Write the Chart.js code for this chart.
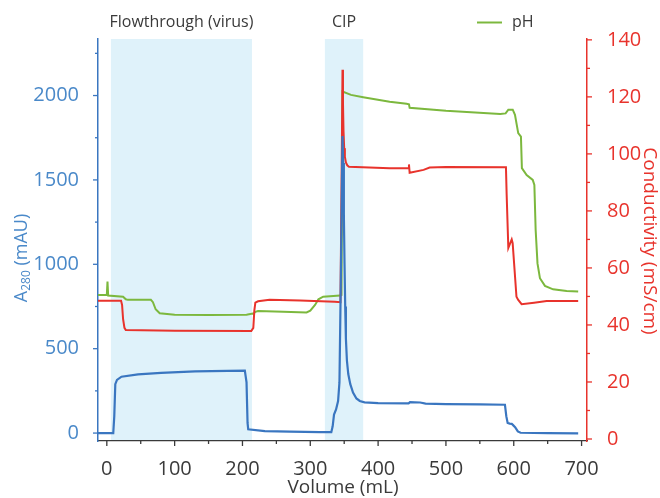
<!DOCTYPE html>
<html>
<head>
<meta charset="utf-8">
<script src="https://cdn.jsdelivr.net/npm/chart.js@4.4.0/dist/chart.umd.min.js"></script>
<style>
html, body { margin: 0; padding: 0; background: #fff; }
#wrap { width: 660px; height: 498px; position: relative; }
</style>
</head>
<body>
<div id="wrap"><canvas id="chromChart"></canvas></div>
<script>
// UV trace, A280 (mAU) against volume (mL)
var volA280 = [-13, 9.5, 11, 12.5, 15, 21.6, 46, 80, 130, 178, 203.5, 206, 207.5, 208.5, 233, 270, 314, 331,
    333, 335, 338, 341, 343, 345, 347.5, 348.5, 349.5, 350.5, 351.5, 352.5, 354, 356, 359, 363, 368, 373, 380,
    400, 445, 447, 462, 470, 500, 550, 587, 589, 591, 594, 597, 599, 602, 606, 610, 650, 695];
var a280 = [0, 0, 100, 290, 315, 334, 348, 357, 366, 369, 370, 300, 60, 22, 12, 8, 5, 5,
    40, 110, 140, 190, 300, 900, 1760, 1600, 1300, 1000, 750, 560, 430, 350, 290, 240, 205, 190, 182,
    178, 176, 183, 181, 175, 172, 170, 168, 100, 60, 56, 55, 47, 35, 10, 2, 0, -2];

// conductivity (mS/cm)
var volCond = [-13, 21, 22.5, 24, 26, 28, 100, 213, 216, 217.5, 219, 223, 240, 285, 336, 344.5, 346.5, 347.5,
    348.2, 349, 350, 351, 352.5, 354.5, 357, 417, 445, 445.5, 446.5, 467, 476, 500, 588.5, 589.5, 592, 597,
    598.4, 604, 606.6, 611.6, 630, 648.5, 695];
var conductivity = [48.5, 48.5, 47, 42, 39, 38.2, 38, 37.9, 39, 45, 47.8, 48.3, 48.8, 48.6, 48.1, 48, 100, 129.5,
    118, 108, 102, 99, 97, 96, 95.5, 95, 95, 96.3, 93.4, 94.4, 95.2, 95.4, 95.3, 86, 67, 70,
    68.7, 49.9, 48.8, 47.3, 47.8, 48.4, 48.4];

// pH
var volPH = [-13, 0, 1, 2, 24, 28, 31, 65, 68, 72, 78, 100, 150, 206, 215, 216, 219, 223, 260, 294.5, 300, 307,
    312, 319, 344, 346, 347.5, 360, 378, 417, 442, 445.5, 446.5, 500, 580, 588, 592, 598.5, 601.8, 606.6, 610.6,
    612, 619, 628, 630.4, 632.3, 635, 638.6, 646, 658, 678, 695];
var pH = [5.05, 5.05, 5.52, 5.03, 4.99, 4.9, 4.88, 4.88, 4.8, 4.55, 4.41, 4.36, 4.35, 4.36, 4.4, 4.39, 4.46, 4.49,
    4.46, 4.44, 4.5, 4.7, 4.9, 4.99, 5.03, 5.05, 12.19, 12.07, 11.99, 11.83, 11.76, 11.74, 11.62, 11.51, 11.4, 11.42,
    11.55, 11.55, 11.37, 10.73, 10.61, 9.5, 9.26, 9.09, 8.91, 7.33, 6.16, 5.64, 5.37, 5.25, 5.19, 5.17];

var regionNames = ['Flowthrough (virus)', 'CIP'];
var regionStart = [6, 321.5];
var regionEnd = [214, 378];

var volumeLabels = [0, 100, 200, 300, 400, 500, 600, 700];
var a280Labels = [0, 500, 1000, 1500, 2000];
var condLabels = [0, 20, 40, 60, 80, 100, 120, 140];

var blue = '#3a76c0';
var blueText = '#4a89c9';
var red = '#e8332c';
var green = '#7cb83e';
var grey = '#3a3a3a';
var fontName = "'Open Sans', sans-serif";

function toPoints(xs, ys) {
    return xs.map(function(x, i) { return { x: x, y: ys[i] }; });
}

function onlyLabels(list) {
    return function(value) { return list.indexOf(value) >= 0 ? value : ''; };
}

var overlay = {
    id: 'overlay',
    beforeDraw: function(chart) {
        var ctx = chart.ctx, area = chart.chartArea, x = chart.scales.x;
        ctx.save();
        ctx.fillStyle = '#dff2fa';
        for (var i = 0; i < regionNames.length; i++) {
            var a = x.getPixelForValue(regionStart[i]);
            var b = x.getPixelForValue(regionEnd[i]);
            ctx.fillRect(a, area.top, b - a, area.bottom - area.top);
        }
        ctx.restore();
    },
    afterDraw: function(chart) {
        var ctx = chart.ctx, area = chart.chartArea;
        var x = chart.scales.x, y = chart.scales.y, y2 = chart.scales.y2;
        ctx.save();

        // tick marks
        ctx.lineWidth = 1.3;
        ctx.strokeStyle = grey;
        x.ticks.forEach(function(t) {
            var p = x.getPixelForValue(t.value);
            var len = volumeLabels.indexOf(t.value) >= 0 ? 5 : 3;
            ctx.beginPath(); ctx.moveTo(p, area.bottom); ctx.lineTo(p, area.bottom + len); ctx.stroke();
        });
        ctx.strokeStyle = blue;
        y.ticks.forEach(function(t) {
            var p = y.getPixelForValue(t.value);
            var len = a280Labels.indexOf(t.value) >= 0 ? 5 : 3;
            ctx.beginPath(); ctx.moveTo(area.left - len, p); ctx.lineTo(area.left, p); ctx.stroke();
        });
        ctx.strokeStyle = red;
        y2.ticks.forEach(function(t) {
            var p = y2.getPixelForValue(t.value);
            var len = condLabels.indexOf(t.value) >= 0 ? 5 : 3;
            ctx.beginPath(); ctx.moveTo(area.right, p); ctx.lineTo(area.right + len, p); ctx.stroke();
        });

        // region labels
        ctx.fillStyle = grey;
        ctx.font = '16px ' + fontName;
        ctx.textAlign = 'center';
        ctx.textBaseline = 'alphabetic';
        for (var i = 0; i < regionNames.length; i++) {
            var mid = (x.getPixelForValue(regionStart[i]) + x.getPixelForValue(regionEnd[i])) / 2;
            ctx.fillText(regionNames[i], mid, 27);
        }

        // legend for pH
        ctx.strokeStyle = green;
        ctx.lineWidth = 2;
        ctx.beginPath(); ctx.moveTo(477, 22.5); ctx.lineTo(502, 22.5); ctx.stroke();
        ctx.textAlign = 'left';
        ctx.fillText(chart.data.datasets[2].label, 512, 27);

        // x title
        ctx.font = '19px ' + fontName;
        ctx.textAlign = 'center';
        ctx.fillText('Volume (mL)', 343, 493);

        // left title with subscript
        ctx.save();
        ctx.translate(27, 258);
        ctx.rotate(-Math.PI / 2);
        ctx.fillStyle = blueText;
        ctx.textAlign = 'left';
        var big = '18px ' + fontName, small = '12px ' + fontName;
        ctx.font = big; var w1 = ctx.measureText('A').width; var w3 = ctx.measureText(' (mAU)').width;
        ctx.font = small; var w2 = ctx.measureText('280').width;
        var sx = -(w1 + w2 + w3) / 2;
        ctx.font = big; ctx.fillText('A', sx, 0);
        ctx.font = small; ctx.fillText('280', sx + w1, 3);
        ctx.font = big; ctx.fillText(' (mAU)', sx + w1 + w2, 0);
        ctx.restore();

        // right title
        ctx.save();
        ctx.translate(644, 241);
        ctx.rotate(Math.PI / 2);
        ctx.fillStyle = red;
        ctx.font = '19px ' + fontName;
        ctx.textAlign = 'center';
        ctx.fillText('Conductivity (mS/cm)', 0, 0);
        ctx.restore();

        ctx.restore();
    }
};

var ctx = document.getElementById('chromChart').getContext('2d');
var chromChart = new Chart(ctx, {
    type: 'line',
    data: {
        datasets: [
            {
                label: 'A280',
                data: toPoints(volA280, a280),
                borderColor: blue,
                borderWidth: 2.2,
                yAxisID: 'y'
            },
            {
                label: 'Conductivity',
                data: toPoints(volCond, conductivity),
                borderColor: red,
                borderWidth: 2,
                yAxisID: 'y2'
            },
            {
                label: 'pH',
                data: toPoints(volPH, pH),
                borderColor: green,
                borderWidth: 2,
                yAxisID: 'yPH'
            }
        ]
    },
    options: {
        responsive: true,
        maintainAspectRatio: false,
        animation: false,
        elements: {
            point: { radius: 0 },
            line: { tension: 0, fill: false }
        },
        layout: { padding: { top: 39, left: 0, right: 0, bottom: 0 } },
        scales: {
            x: {
                type: 'linear',
                min: -13,
                max: 708,
                grid: { display: false },
                border: { color: grey, width: 1.3 },
                ticks: {
                    stepSize: 50,
                    autoSkip: false,
                    includeBounds: false,
                    maxRotation: 0,
                    padding: 8,
                    color: grey,
                    font: { family: fontName, size: 20 },
                    callback: onlyLabels(volumeLabels)
                },
                afterFit: function(s) { s.height = 57; }
            },
            y: {
                position: 'left',
                min: -47,
                max: 2335,
                grid: { display: false },
                border: { color: blue, width: 1.5 },
                ticks: {
                    stepSize: 250,
                    autoSkip: false,
                    includeBounds: false,
                    padding: 11,
                    color: blueText,
                    font: { family: fontName, size: 20 },
                    callback: onlyLabels(a280Labels)
                },
                afterFit: function(s) { s.width = 98; }
            },
            y2: {
                position: 'right',
                min: -0.7,
                max: 140.3,
                grid: { display: false },
                border: { color: red, width: 1.5 },
                ticks: {
                    stepSize: 10,
                    autoSkip: false,
                    includeBounds: false,
                    padding: 12,
                    color: red,
                    font: { family: fontName, size: 20 },
                    callback: onlyLabels(condLabels)
                },
                afterFit: function(s) { s.width = 73; }
            },
            yPH: {
                display: false,
                min: -0.07,
                max: 14.03
            }
        },
        plugins: {
            legend: { display: false },
            tooltip: { enabled: false }
        }
    },
    plugins: [overlay]
});
</script>
</body>
</html>
